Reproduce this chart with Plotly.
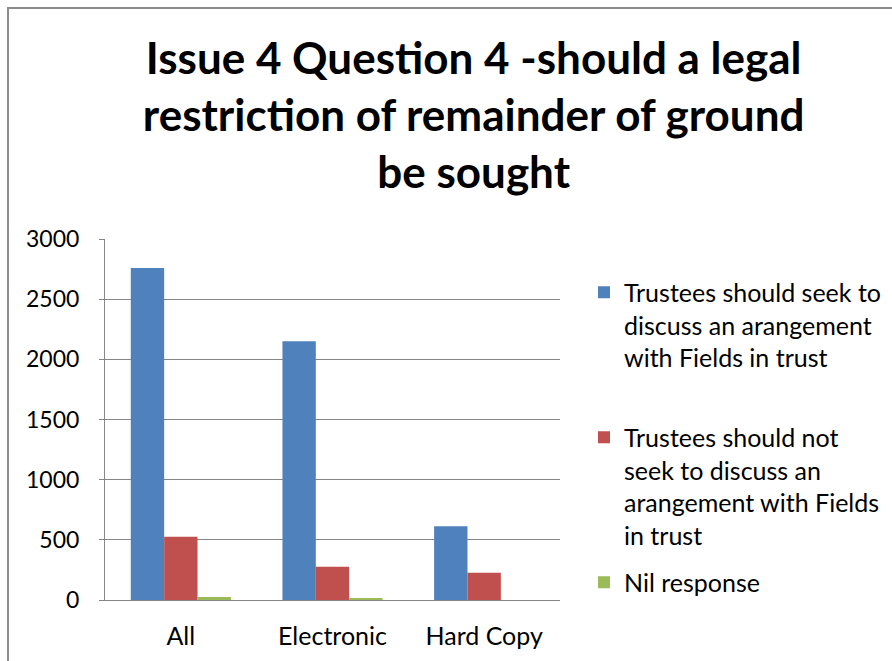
import plotly.graph_objects as go

categories = ["All", "Electronic", "Hard Copy"]
series_names = [
    "Trustees should seek to<br>discuss an arangement<br>with Fields in trust<br> ",
    "Trustees should not<br>seek to discuss an<br>arangement with Fields<br>in trust",
    "Nil response",
]
seek_values = [2760, 2150, 612]
not_seek_values = [525, 277, 227]
nil_values = [25, 15, 0]
colors = ["#4F81BD", "#C0504D", "#9BBB59"]
tick_vals = [0, 500, 1000, 1500, 2000, 2500, 3000]

FONT = "Lato"
fig = go.Figure()
for i, (name, vals) in enumerate(zip(series_names, [seek_values, not_seek_values, nil_values])):
    fig.add_trace(go.Bar(x=categories, y=vals, name=name, marker_color=colors[i],
                         marker_line_width=0, legendgroup=f"g{i}"))

fig.update_layout(
    width=892, height=661,
    margin=dict(l=105, r=332, t=239, b=61, autoexpand=False),
    paper_bgcolor="white", plot_bgcolor="white",
    barmode="group", bargap=0.34, bargroupgap=0,
    font=dict(family=FONT, color="#000000"),
    title=dict(text="<b>Issue 4 Question 4 -should a legal<br>restriction of remainder of ground<br>be sought</b>",
               x=0.531, xanchor="center", xref="container",
               y=1 - 74/661, yanchor="top", yref="container",
               font=dict(family=FONT, size=44, color="#000000")),
    legend=dict(x=584/892, xanchor="left", xref="container",
                y=1 - 269.5/661, yanchor="top", yref="container",
                maxheight=600,
                font=dict(family=FONT, size=25, color="#000000"),
                valign="top", traceorder="grouped", tracegroupgap=12,
                itemwidth=30, bgcolor="rgba(0,0,0,0)"),
    xaxis=dict(showline=True, linecolor="#868686", linewidth=1, ticks="",
               ticklabelstandoff=14,
               tickfont=dict(family=FONT, size=25, color="#000000"), showgrid=False),
    yaxis=dict(range=[0, 3000], tickvals=tick_vals, showgrid=True, gridcolor="#868686",
               gridwidth=1, showline=True, linecolor="#868686", linewidth=1,
               ticks="outside", ticklen=5, tickcolor="#868686", ticklabelstandoff=15,
               tickfont=dict(family=FONT, size=23, color="#000000"), zeroline=False),
    shapes=[dict(type="rect", xref="paper", yref="paper",
                 x0=(8-105)/455, x1=(900-105)/455, y0=-0.5, y1=(600-8)/361,
                 line=dict(color="#8C8C8C", width=2), fillcolor="rgba(0,0,0,0)", layer="below")],
)
fig.write_html("out.html")
